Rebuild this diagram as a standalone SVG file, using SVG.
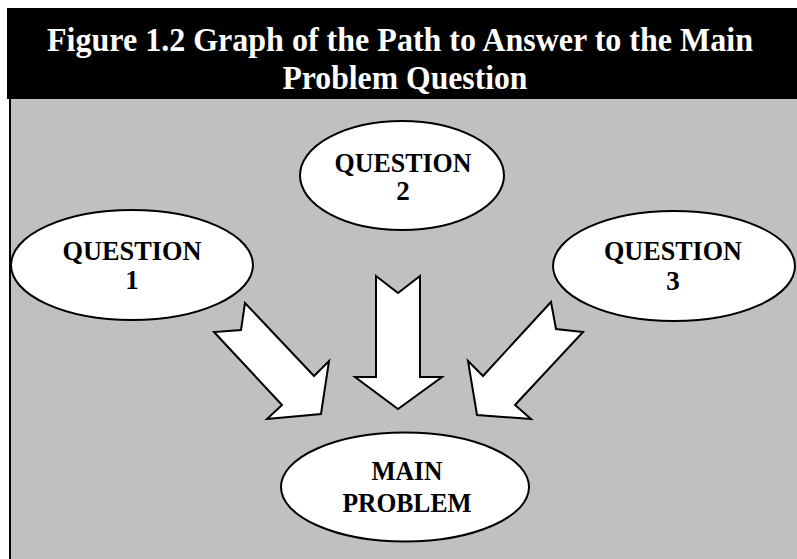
<svg xmlns="http://www.w3.org/2000/svg" width="797" height="559" viewBox="0 0 797 559">
<style>
.title{font-family:"Liberation Serif","Times New Roman",serif;font-weight:bold;font-size:33px;fill:#fff;text-anchor:middle}
.lbl{font-family:"Liberation Serif","Times New Roman",serif;font-weight:bold;font-size:27px;fill:#000;text-anchor:middle}
.node ellipse{fill:#fff;stroke:#000;stroke-width:2}
.arrow{fill:#fff;stroke:#000;stroke-width:2;stroke-linejoin:miter}
</style>
<rect x="0" y="0" width="797" height="559" fill="#fff"/>
<rect x="10" y="98" width="787" height="461" fill="#c0c0c0"/>
<line x1="10" y1="98" x2="10" y2="559" stroke="#000" stroke-width="2"/>
<rect x="7" y="8" width="790" height="91" fill="#000"/>
<text class="title" x="400" y="51" textLength="706" lengthAdjust="spacingAndGlyphs">Figure 1.2 Graph of the Path to Answer to the Main</text>
<text class="title" x="405" y="89" textLength="245" lengthAdjust="spacingAndGlyphs">Problem Question</text>
<g id="connectors">
<polygon class="arrow" points="245,303 241,330 214,332 282,405 267,419 321,414 329,361 314,376"/>
<polygon class="arrow" points="376,276 398,293 420,276 420,377 442,377 398,409 355,377 376,377"/>
<polygon class="arrow" points="551,302 556,329 583,332 515,405 531,419 477,415 468,361 483,376"/>
</g>
<g id="q1" class="node"><ellipse cx="132" cy="265" rx="121" ry="55"/><text class="lbl" x="132" y="260" textLength="139" lengthAdjust="spacingAndGlyphs">QUESTION</text><text class="lbl" x="132" y="289">1</text></g>
<g id="q2" class="node"><ellipse cx="402" cy="175.5" rx="102" ry="54.5"/><text class="lbl" x="403" y="172" textLength="137" lengthAdjust="spacingAndGlyphs">QUESTION</text><text class="lbl" x="403" y="200">2</text></g>
<g id="q3" class="node"><ellipse cx="674" cy="266" rx="121" ry="55"/><text class="lbl" x="673" y="260" textLength="138" lengthAdjust="spacingAndGlyphs">QUESTION</text><text class="lbl" x="673" y="290">3</text></g>
<g id="main" class="node"><ellipse cx="405" cy="487" rx="124" ry="54.5"/><text class="lbl" x="407" y="480" textLength="71" lengthAdjust="spacingAndGlyphs">MAIN</text><text class="lbl" x="407" y="512" textLength="129" lengthAdjust="spacingAndGlyphs">PROBLEM</text></g>
</svg>
